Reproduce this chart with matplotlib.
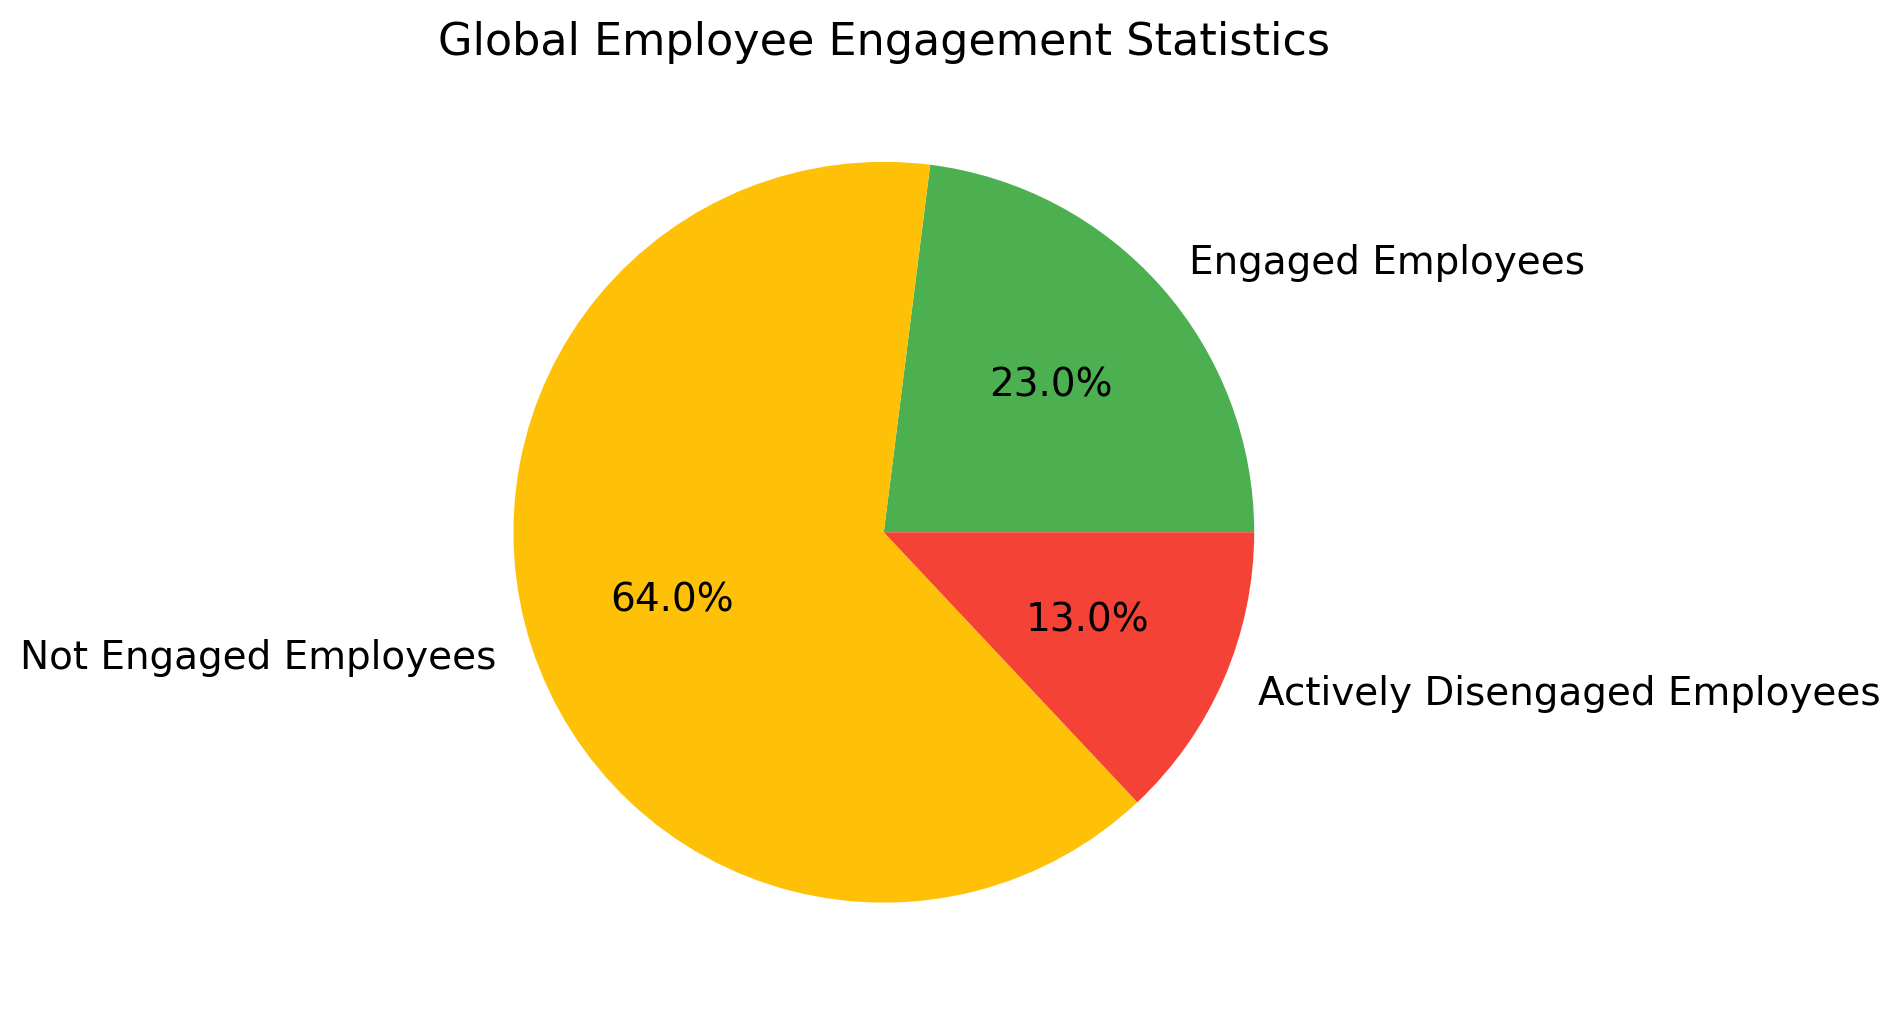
import matplotlib
matplotlib.use("Agg")
import matplotlib.pyplot as plt

labels = ["Engaged Employees", "Not Engaged Employees", "Actively Disengaged Employees"]
values = [23.0, 64.0, 13.0]
colors = ["#4CAF50", "#FFC107", "#F44336"]

fig = plt.figure(figsize=(9.49, 5.07), dpi=200)
ax = fig.add_axes([0.2217, 0.0185, 0.4879, 0.9132])
ax.pie(values, labels=labels, colors=colors, autopct="%1.1f%%", startangle=0,
       textprops={"fontsize": 14})
ax.set_aspect("equal")
ax.set_title("Global Employee Engagement Statistics", fontsize=16, pad=5)
fig.savefig("out.png", dpi=200)
